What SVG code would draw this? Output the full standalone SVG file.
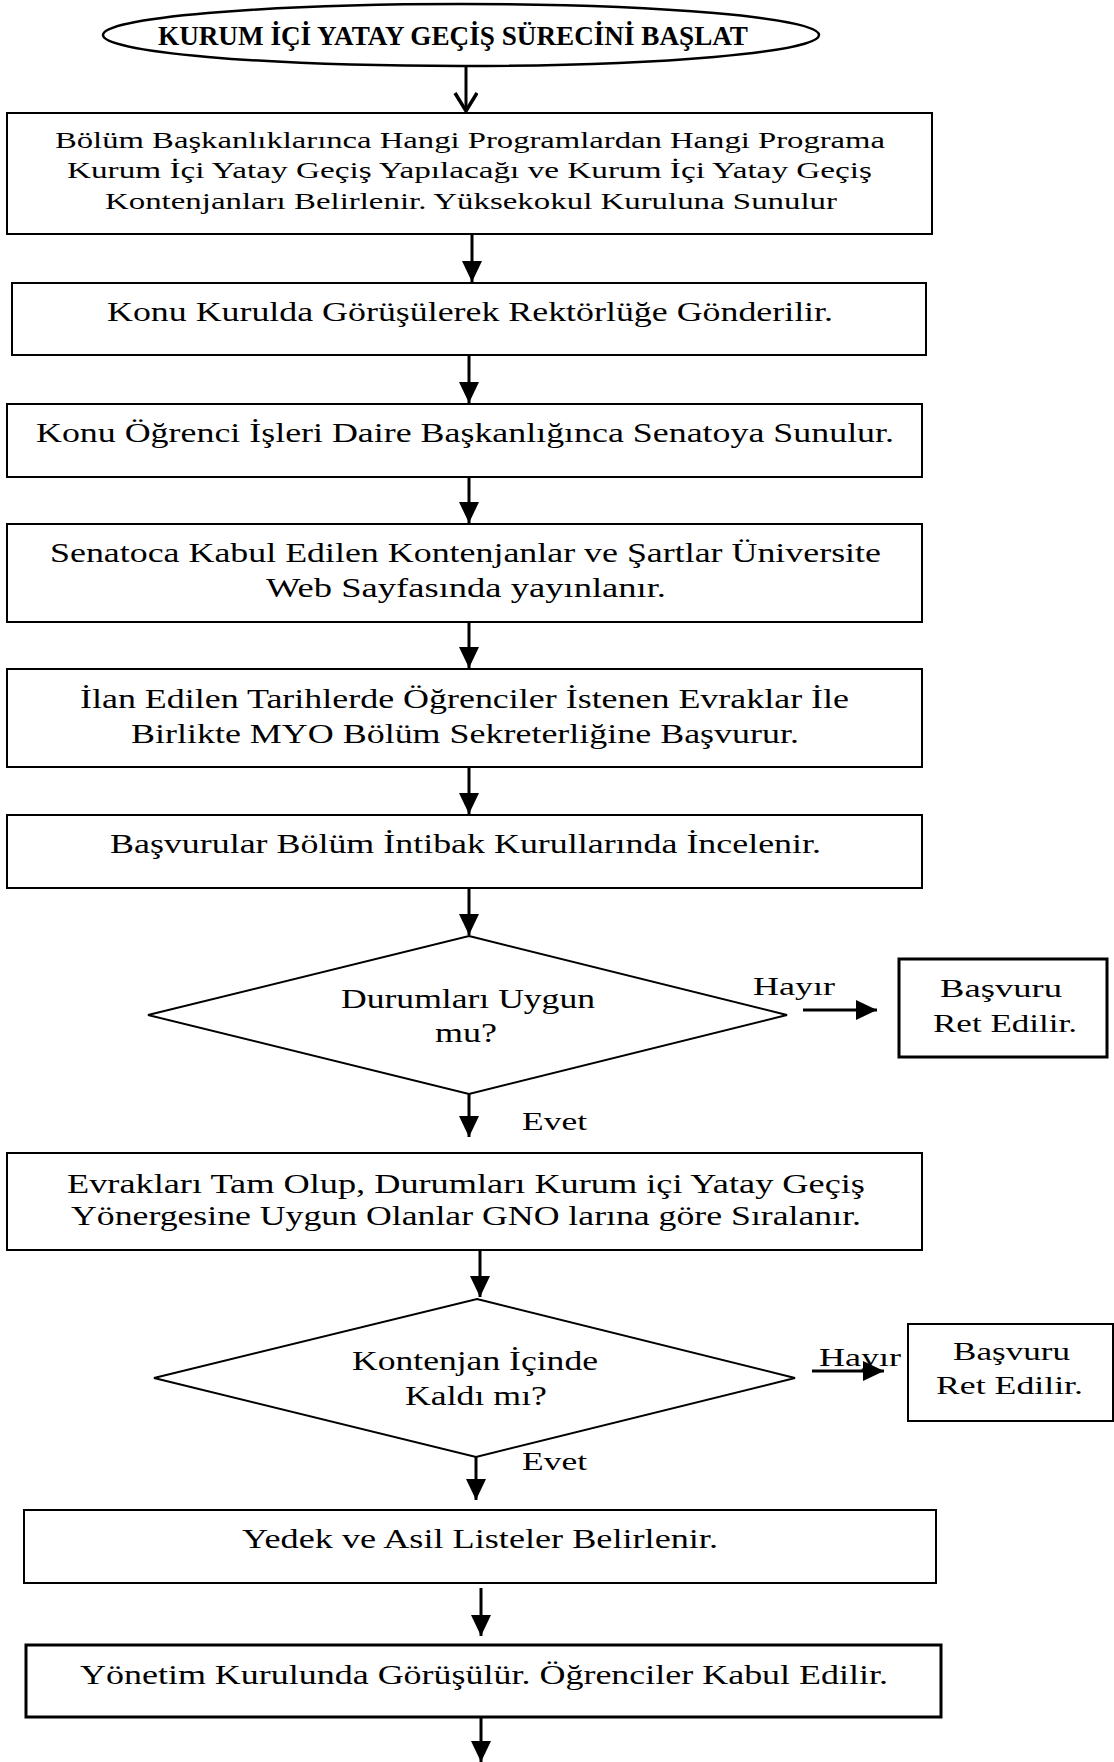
<svg xmlns="http://www.w3.org/2000/svg" width="1114" height="1762" viewBox="0 0 1114 1762">
  <style>
    .box { fill: #fff; stroke: #000; stroke-width: 2; }
    .thick { stroke-width: 3; }
    .dec { fill: #fff; stroke: #000; stroke-width: 2; }
    .t { font-family: "Liberation Serif", "Times New Roman", serif; font-size: 27px; fill: #000; }
    .small { font-size: 24px; }
    .lbl { font-size: 26px; }
    .title { font-family: "Liberation Serif", "Times New Roman", serif; font-size: 27px; font-weight: bold; fill: #000; }
    .wire { fill: none; stroke: #000; stroke-width: 3; }
  </style>
  <defs>
    <marker id="head" markerUnits="userSpaceOnUse" markerWidth="24" markerHeight="22" refX="21" refY="10" orient="auto">
      <path d="M0,0 L21,10 L0,20 Z" fill="#000"/>
    </marker>
    <marker id="vee" markerUnits="userSpaceOnUse" markerWidth="26" markerHeight="28" refX="22" refY="12" orient="auto">
      <path d="M4,1 L22,12 L4,23" fill="none" stroke="#000" stroke-width="3.5" stroke-linejoin="miter"/>
    </marker>
  </defs>

  <rect width="1114" height="1762" fill="#fff"/>

  <!-- connectors -->
  <g id="connectors">
    <line class="wire" x1="466" y1="67" x2="466" y2="111" marker-end="url(#vee)"/>
    <line class="wire" x1="472" y1="234" x2="472" y2="282" marker-end="url(#head)"/>
    <line class="wire" x1="469" y1="355" x2="469" y2="403" marker-end="url(#head)"/>
    <line class="wire" x1="469" y1="477" x2="469" y2="523" marker-end="url(#head)"/>
    <line class="wire" x1="469" y1="622" x2="469" y2="668" marker-end="url(#head)"/>
    <line class="wire" x1="469" y1="767" x2="469" y2="814" marker-end="url(#head)"/>
    <line class="wire" x1="469" y1="888" x2="469" y2="935" marker-end="url(#head)"/>
    <line class="wire" x1="803" y1="1010" x2="877" y2="1010" marker-end="url(#head)"/>
    <line class="wire" x1="469" y1="1094" x2="469" y2="1137" marker-end="url(#head)"/>
    <line class="wire" x1="480" y1="1250" x2="480" y2="1297" marker-end="url(#head)"/>
    <line class="wire" x1="812" y1="1371" x2="884" y2="1371" marker-end="url(#head)"/>
    <line class="wire" x1="476" y1="1457" x2="476" y2="1500" marker-end="url(#head)"/>
    <line class="wire" x1="481" y1="1588" x2="481" y2="1636" marker-end="url(#head)"/>
    <line class="wire" x1="481" y1="1717" x2="481" y2="1762" marker-end="url(#head)"/>
    <text class="t lbl" x="753" y="995" textLength="82" lengthAdjust="spacingAndGlyphs">Hayır</text>
    <text class="t lbl" x="522" y="1130" textLength="65" lengthAdjust="spacingAndGlyphs">Evet</text>
    <text class="t lbl" x="819" y="1366" textLength="82" lengthAdjust="spacingAndGlyphs">Hayır</text>
    <text class="t lbl" x="522" y="1470" textLength="65" lengthAdjust="spacingAndGlyphs">Evet</text>
  </g>

  <!-- start terminal -->
  <g id="start">
    <ellipse cx="461" cy="35" rx="358" ry="31" fill="#fff" stroke="#000" stroke-width="2.5"/>
    <text class="title" x="158" y="45" textLength="590" lengthAdjust="spacingAndGlyphs">KURUM İÇİ YATAY GEÇİŞ SÜRECİNİ BAŞLAT</text>
  </g>

  <g id="step1">
    <rect class="box" x="7" y="113" width="925" height="121"/>
    <text class="t small" x="55" y="148" textLength="830" lengthAdjust="spacingAndGlyphs">Bölüm Başkanlıklarınca Hangi Programlardan Hangi Programa</text>
    <text class="t small" x="67" y="178" textLength="805" lengthAdjust="spacingAndGlyphs">Kurum İçi Yatay Geçiş Yapılacağı ve Kurum İçi Yatay Geçiş</text>
    <text class="t small" x="105" y="209" textLength="732" lengthAdjust="spacingAndGlyphs">Kontenjanları Belirlenir. Yüksekokul Kuruluna Sunulur</text>
  </g>

  <g id="step2">
    <rect class="box" x="12" y="283" width="914" height="72"/>
    <text class="t" x="107" y="321" textLength="726" lengthAdjust="spacingAndGlyphs">Konu Kurulda Görüşülerek Rektörlüğe Gönderilir.</text>
  </g>

  <g id="step3">
    <rect class="box" x="7" y="404" width="915" height="73"/>
    <text class="t" x="36" y="442" textLength="858" lengthAdjust="spacingAndGlyphs">Konu Öğrenci İşleri Daire Başkanlığınca Senatoya Sunulur.</text>
  </g>

  <g id="step4">
    <rect class="box" x="7" y="524" width="915" height="98"/>
    <text class="t" x="50" y="562" textLength="831" lengthAdjust="spacingAndGlyphs">Senatoca Kabul Edilen Kontenjanlar ve Şartlar Üniversite</text>
    <text class="t" x="266" y="597" textLength="400" lengthAdjust="spacingAndGlyphs">Web Sayfasında yayınlanır.</text>
  </g>

  <g id="step5">
    <rect class="box" x="7" y="669" width="915" height="98"/>
    <text class="t" x="80" y="708" textLength="769" lengthAdjust="spacingAndGlyphs">İlan Edilen Tarihlerde Öğrenciler İstenen Evraklar İle</text>
    <text class="t" x="131" y="743" textLength="668" lengthAdjust="spacingAndGlyphs">Birlikte MYO Bölüm Sekreterliğine Başvurur.</text>
  </g>

  <g id="step6">
    <rect class="box" x="7" y="815" width="915" height="73"/>
    <text class="t" x="110" y="853" textLength="711" lengthAdjust="spacingAndGlyphs">Başvurular Bölüm İntibak Kurullarında İncelenir.</text>
  </g>

  <g id="decision1">
    <polygon class="dec" points="469,936 787,1015 469,1094 148,1015"/>
    <text class="t" x="341" y="1008" textLength="254" lengthAdjust="spacingAndGlyphs">Durumları Uygun</text>
    <text class="t" x="435" y="1042" textLength="62" lengthAdjust="spacingAndGlyphs">mu?</text>
  </g>

  <g id="reject1">
    <rect class="box thick" x="899" y="959" width="208" height="98"/>
    <text class="t lbl" x="940" y="997" textLength="122" lengthAdjust="spacingAndGlyphs">Başvuru</text>
    <text class="t lbl" x="933" y="1032" textLength="144" lengthAdjust="spacingAndGlyphs">Ret Edilir.</text>
  </g>

  <g id="step7">
    <rect class="box" x="7" y="1153" width="915" height="97"/>
    <text class="t" x="67" y="1193" textLength="798" lengthAdjust="spacingAndGlyphs">Evrakları Tam Olup, Durumları Kurum içi Yatay Geçiş</text>
    <text class="t" x="71" y="1225" textLength="790" lengthAdjust="spacingAndGlyphs">Yönergesine Uygun Olanlar GNO larına göre Sıralanır.</text>
  </g>

  <g id="decision2">
    <polygon class="dec" points="477,1299 795,1378 476,1457 154,1378"/>
    <text class="t" x="352" y="1370" textLength="246" lengthAdjust="spacingAndGlyphs">Kontenjan İçinde</text>
    <text class="t" x="405" y="1405" textLength="142" lengthAdjust="spacingAndGlyphs">Kaldı mı?</text>
  </g>

  <g id="reject2">
    <rect class="box" x="908" y="1324" width="205" height="97"/>
    <text class="t lbl" x="953" y="1360" textLength="117" lengthAdjust="spacingAndGlyphs">Başvuru</text>
    <text class="t lbl" x="936" y="1394" textLength="147" lengthAdjust="spacingAndGlyphs">Ret Edilir.</text>
  </g>

  <g id="step8">
    <rect class="box" x="24" y="1510" width="912" height="73"/>
    <text class="t" x="242" y="1548" textLength="476" lengthAdjust="spacingAndGlyphs">Yedek ve Asil Listeler Belirlenir.</text>
  </g>

  <g id="step9">
    <rect class="box thick" x="26" y="1645" width="915" height="72"/>
    <text class="t" x="80" y="1684" textLength="808" lengthAdjust="spacingAndGlyphs">Yönetim Kurulunda Görüşülür. Öğrenciler Kabul Edilir.</text>
  </g>
</svg>
